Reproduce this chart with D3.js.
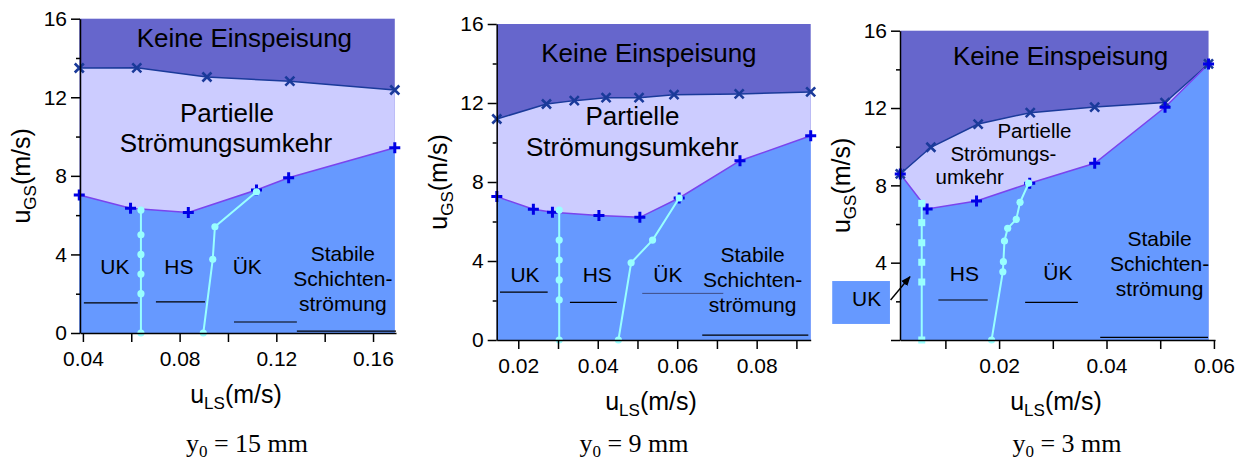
<!DOCTYPE html>
<html lang="de">
<head>
<meta charset="UTF-8">
<title>Strömungskarte</title>
<script src="https://cdn.jsdelivr.net/npm/d3@7/dist/d3.min.js"></script>
<style>
    body { margin: 0; background: #fff; }
    svg text { font-family: "Liberation Sans", Arial, sans-serif; fill: #000; }
    .caption { font-family: "Liberation Serif", "Times New Roman", serif; }
    .axis path, .axis line { stroke: #000; stroke-width: 1.5; }
</style>
</head>
<body>
<script>
    // y0 = 15 mm  [u_LS, u_GS]
    var upper15 = [[0.0385, 13.49], [0.0623, 13.50], [0.0913, 13.03], [0.1256, 12.82], [0.169, 12.37]];
    var lower15 = [[0.0385, 7.02], [0.0597, 6.35], [0.0836, 6.14], [0.1118, 7.28], [0.1251, 7.90], [0.169, 9.43]];
    var ukhs15 = [[0.064, 6.26], [0.064, 5.0], [0.064, 4.0], [0.064, 3.0], [0.064, 2.0], [0.064, 0]];
    var hsuk15 = [[0.0898, 0], [0.0937, 3.75], [0.0946, 5.41], [0.1118, 7.19]];

    // y0 = 9 mm
    var upper9 = [[0.0146, 11.19], [0.0271, 11.95], [0.0341, 12.12], [0.0421, 12.27], [0.0504, 12.27], [0.0592, 12.42], [0.0756, 12.46], [0.0936, 12.56]];
    var lower9 = [[0.0146, 7.26], [0.0238, 6.62], [0.0286, 6.47], [0.0403, 6.31], [0.0506, 6.21], [0.0605, 7.19], [0.0758, 9.08], [0.0936, 10.34]];
    var ukhs9 = [[0.0303, 6.58], [0.0303, 5.06], [0.0303, 4.05], [0.0303, 3.04], [0.0303, 2.03], [0.0303, 0]];
    var hsuk9 = [[0.0452, 0], [0.0484, 3.91], [0.0538, 5.06], [0.0605, 7.19]];

    // y0 = 3 mm
    var upper3 = [[0.0016, 8.59], [0.0073, 9.97], [0.0161, 11.17], [0.0258, 11.76], [0.0378, 12.05], [0.0509, 12.28], [0.059, 14.28]];
    var lower3 = [[0.0016, 8.59], [0.0066, 6.78], [0.0158, 7.19], [0.0257, 8.11], [0.0378, 9.14], [0.0509, 12.04], [0.059, 14.28]];
    var ukhs3 = [[0.0056, 7.07], [0.0056, 6.07], [0.0056, 5.03], [0.0056, 4.02], [0.0056, 3.0], [0.0056, 0]];
    var hsuk3 = [[0.0186, 0], [0.0207, 3.53], [0.0208, 4.05], [0.0210, 5.12], [0.0216, 5.78], [0.0232, 6.24], [0.0239, 7.12], [0.0255, 8.11]];

    // ticks
    var xMajor15 = [0.04, 0.08, 0.12, 0.16], xMinor15 = [0.06, 0.10, 0.14];
    var xMajor9 = [0.02, 0.04, 0.06, 0.08], xMinor9 = [0.03, 0.05, 0.07, 0.09];
    var xMajor3 = [0.02, 0.04, 0.06], xMinor3 = [0.01, 0.03, 0.05];
    var yMajor = [0, 4, 8, 12, 16], yMinor = [2, 6, 10, 14];
    var captions = ["15", "9", "3"];

    var colTop = "#6666cc", colMid = "#ccccff", colLow = "#6699ff";

    var panels = [
        {
            left: 80, top: 18.7, right: 396, bottom: 333, xDomain: [0.0388, 0.1695],
            xMajor: xMajor15, xMinor: xMinor15, hideZero: false,
            upper: upper15, lower: lower15, ukhs: ukhs15, hsuk: hsuk15, ukhsShape: "circle",
            caption: captions[0], capX: 247, titleX: 236,
            labels: [
                {s: 26, lines: [{t: "Keine Einspeisung", x: 0.1068, y: 14.55}]},
                {s: 26, lines: [{t: "Partielle", x: 0.0996, y: 10.74}, {t: "Strömungsumkehr", x: 0.0992, y: 9.21}]},
                {s: 21, lines: [{t: "UK", x: 0.0532, y: 3.0}]},
                {s: 21, lines: [{t: "HS", x: 0.0797, y: 3.0}]},
                {s: 21, lines: [{t: "ÜK", x: 0.108, y: 3.0}]},
                {s: 21, lines: [{t: "Stabile", x: 0.1475, y: 3.66}, {t: "Schichten-", x: 0.1475, y: 2.39},
                                {t: "strömung", x: 0.1475, y: 1.13}]}
            ],
            rules: [
                {x1: 0.0404, x2: 0.0627, y: 1.53}, {x1: 0.0702, x2: 0.0905, y: 1.58},
                {x1: 0.1025, x2: 0.1285, y: 0.56}, {x1: 0.1285, x2: 0.1695, y: 0.10}
            ]
        },
        {
            left: 496.7, top: 24, right: 810.7, bottom: 340, xDomain: [0.01457, 0.0936],
            xMajor: xMajor9, xMinor: xMinor9, hideZero: false,
            upper: upper9, lower: lower9, ukhs: ukhs9, hsuk: hsuk9, ukhsShape: "circle",
            caption: captions[1], capX: 634, titleX: 651,
            labels: [
                {s: 26, lines: [{t: "Keine Einspeisung", x: 0.05288, y: 14.09}]},
                {s: 26, lines: [{t: "Partielle", x: 0.04873, y: 10.89}, {t: "Strömungsumkehr", x: 0.04868, y: 9.32}]},
                {s: 21, lines: [{t: "UK", x: 0.02169, y: 2.92}]},
                {s: 21, lines: [{t: "HS", x: 0.03987, y: 2.92}]},
                {s: 21, lines: [{t: "ÜK", x: 0.05766, y: 2.92}]},
                {s: 21, lines: [{t: "Stabile", x: 0.07897, y: 3.93}, {t: "Schichten-", x: 0.07897, y: 2.67},
                                {t: "strömung", x: 0.07897, y: 1.40}]}
            ],
            rules: [
                {x1: 0.0154, x2: 0.0274, y: 2.42}, {x1: 0.033, x2: 0.0448, y: 1.91},
                {x1: 0.0512, x2: 0.0716, y: 2.36, c: "#333a66", w: 0.8}, {x1: 0.0663, x2: 0.093, y: 0.25}
            ]
        },
        {
            left: 900, top: 30.7, right: 1215, bottom: 340, xDomain: [0.00155, 0.0602],
            xMajor: xMajor3, xMinor: xMinor3, hideZero: true,
            upper: upper3, lower: lower3, ukhs: ukhs3, hsuk: hsuk3, ukhsShape: "square",
            caption: captions[2], capX: 1067, titleX: 1056,
            labels: [
                {s: 26, lines: [{t: "Keine Einspeisung", x: 0.03146, y: 14.23}]},
                {s: 20.5, lines: [{t: "Partielle", x: 0.02658, y: 10.45}, {t: "Strömungs-", x: 0.0208, y: 9.26},
                                {t: "umkehr", x: 0.01454, y: 8.07}]},
                {s: 21, lines: [{t: "HS", x: 0.01353, y: 3.07}]},
                {s: 21, lines: [{t: "ÜK", x: 0.03094, y: 3.10}]},
                {s: 21, lines: [{t: "Stabile", x: 0.04988, y: 4.86}, {t: "Schichten-", x: 0.04988, y: 3.57},
                                {t: "strömung", x: 0.04988, y: 2.29}]}
            ],
            rules: [
                {x1: 0.00869, x2: 0.01789, y: 2.07}, {x1: 0.02485, x2: 0.03467, y: 1.95},
                {x1: 0.03883, x2: 0.0589, y: 0.14}
            ],
            ukBox: {x1: -0.01107, x2: -0.00032, y1: 3.05, y2: 0.83, tx: -0.00466, ty: 1.77,
                    ax1: -0.0002, ay1: 2.07, ax2: 0.0034, ay2: 3.27}
        }
    ];

    var svg = d3.select("body").append("svg")
        .attr("width", 1243)
        .attr("height", 463);

    svg.append("defs").append("marker")
        .attr("id", "arrow")
        .attr("viewBox", "0 0 10 10")
        .attr("refX", 9).attr("refY", 5)
        .attr("markerWidth", 7).attr("markerHeight", 7)
        .attr("orient", "auto")
        .append("path")
        .attr("d", "M0,1L10,5L0,9z")
        .attr("fill", "#000");

    panels.forEach(function (p) {
        var x = d3.scaleLinear().domain(p.xDomain).range([p.left, p.right]);
        var y = d3.scaleLinear().domain([0, 16]).range([p.bottom, p.top]);
        var g = svg.append("g");

        var x0 = p.upper[0][0], x1 = p.upper[p.upper.length - 1][0];

        // regions
        g.append("rect")
            .attr("x", x(x0)).attr("y", y(16))
            .attr("width", x(x1) - x(x0)).attr("height", y(0) - y(16))
            .attr("fill", colTop);

        var area = d3.area()
            .x(function (d) { return x(d[0]); })
            .y0(y(0))
            .y1(function (d) { return y(d[1]); });

        g.append("path").datum(p.upper).attr("d", area).attr("fill", colMid);
        g.append("path").datum(p.lower).attr("d", area).attr("fill", colLow);

        var line = d3.line()
            .x(function (d) { return x(d[0]); })
            .y(function (d) { return y(d[1]); });

        g.append("path").datum(p.upper).attr("d", line)
            .attr("fill", "none").attr("stroke", "#1a3a9a").attr("stroke-width", 1.5);
        g.append("path").datum(p.lower).attr("d", line)
            .attr("fill", "none").attr("stroke", "#7a44ee").attr("stroke-width", 1.5);

        g.selectAll(".mx").data(p.upper).enter().append("path")
            .attr("transform", function (d) { return "translate(" + x(d[0]) + "," + y(d[1]) + ")"; })
            .attr("d", "M-4.5,-4.5L4.5,4.5M-4.5,4.5L4.5,-4.5")
            .attr("stroke", "#1a3a9a").attr("stroke-width", 2.6);

        g.selectAll(".mp").data(p.lower).enter().append("path")
            .attr("transform", function (d) { return "translate(" + x(d[0]) + "," + y(d[1]) + ")"; })
            .attr("d", "M-5.5,0H5.5M0,-5.5V5.5")
            .attr("stroke", "#0000e6").attr("stroke-width", 3);

        // transition lines
        [p.ukhs, p.hsuk].forEach(function (s, k) {
            g.append("path").datum(s).attr("d", line)
                .attr("fill", "none").attr("stroke", "#99ffff").attr("stroke-width", 2);
            var square = (k === 0 && p.ukhsShape === "square");
            if (square) {
                g.selectAll(null).data(s).enter().append("rect")
                    .attr("x", function (d) { return x(d[0]) - 3.5; })
                    .attr("y", function (d) { return y(d[1]) - 3.5; })
                    .attr("width", 7).attr("height", 7)
                    .attr("fill", "#99ffff");
            } else {
                g.selectAll(null).data(s).enter().append("circle")
                    .attr("cx", function (d) { return x(d[0]); })
                    .attr("cy", function (d) { return y(d[1]); })
                    .attr("r", 3.6)
                    .attr("fill", "#99ffff");
            }
        });

        // rules under labels
        g.selectAll(null).data(p.rules).enter().append("line")
            .attr("x1", function (d) { return x(d.x1); })
            .attr("x2", function (d) { return x(d.x2); })
            .attr("y1", function (d) { return y(d.y); })
            .attr("y2", function (d) { return y(d.y); })
            .attr("stroke", function (d) { return d.c || "#000"; })
            .attr("stroke-width", function (d) { return d.w || 1.2; });

        // region labels (multi-line labels are one text with tspans)
        p.labels.forEach(function (lab) {
            var t = g.append("text")
                .attr("text-anchor", "middle")
                .attr("font-size", lab.s + "px");
            lab.lines.forEach(function (ln) {
                t.append("tspan")
                    .attr("x", x(ln.x))
                    .attr("y", y(ln.y))
                    .text(ln.t);
            });
        });

        if (p.ukBox) {
            var b = p.ukBox;
            g.append("rect")
                .attr("x", x(b.x1)).attr("y", y(b.y1))
                .attr("width", x(b.x2) - x(b.x1)).attr("height", y(b.y2) - y(b.y1))
                .attr("fill", colLow);
            g.append("text")
                .attr("x", x(b.tx)).attr("y", y(b.ty))
                .attr("text-anchor", "middle").attr("font-size", "21px")
                .text("UK");
            g.append("line")
                .attr("x1", x(b.ax1)).attr("y1", y(b.ay1))
                .attr("x2", x(b.ax2)).attr("y2", y(b.ay2))
                .attr("stroke", "#000").attr("stroke-width", 1.4)
                .attr("marker-end", "url(#arrow)");
        }

        // axes
        var ax = g.append("g").attr("class", "axis")
            .attr("transform", "translate(0," + p.bottom + ")");
        ax.call(d3.axisBottom(x).tickValues(p.xMajor).tickSize(9).tickSizeOuter(0)
            .tickPadding(9).tickFormat(d3.format(".2f")));
        ax.selectAll("text").attr("font-size", "21px").attr("font-family", null);
        g.append("g").attr("class", "axis")
            .attr("transform", "translate(0," + p.bottom + ")")
            .call(d3.axisBottom(x).tickValues(p.xMinor).tickSize(9).tickSizeOuter(0).tickFormat(""))
            .select(".domain").remove();

        var ay = g.append("g").attr("class", "axis")
            .attr("transform", "translate(" + p.left + ",0)");
        ay.call(d3.axisLeft(y).tickValues(yMajor).tickSize(9).tickSizeOuter(0).tickPadding(4)
            .tickFormat(function (d) { return (p.hideZero && d === 0) ? "" : d; }));
        ay.selectAll("text").attr("font-size", "21px").attr("font-family", null);
        g.append("g").attr("class", "axis")
            .attr("transform", "translate(" + p.left + ",0)")
            .call(d3.axisLeft(y).tickValues(yMinor).tickSize(4).tickSizeOuter(0).tickFormat(""))
            .select(".domain").remove();

        // axis titles
        var xt = g.append("text")
            .attr("x", p.titleX).attr("y", p.bottom + 70)
            .attr("text-anchor", "middle").attr("font-size", "25px");
        xt.append("tspan").text("u");
        xt.append("tspan").attr("font-size", "17px").attr("dy", 6).text("LS");
        xt.append("tspan").attr("dy", -6).text("(m/s)");

        var yt = g.append("text")
            .attr("transform", "translate(" + (p.left - 50) + "," + ((p.top + p.bottom) / 2) + ") rotate(-90)")
            .attr("text-anchor", "middle").attr("font-size", "25px");
        yt.append("tspan").text("u");
        yt.append("tspan").attr("font-size", "17px").attr("dy", 6).text("GS");
        yt.append("tspan").attr("dy", -6).text("(m/s)");

        // caption
        var cp = g.append("text").attr("class", "caption")
            .attr("x", p.capX).attr("y", 452)
            .attr("text-anchor", "middle").attr("font-size", "26px");
        cp.append("tspan").text("y");
        cp.append("tspan").attr("font-size", "17px").attr("dy", 5).text("0");
        cp.append("tspan").attr("dy", -5).text(" = " + p.caption + " mm");
    });
</script>
</body>
</html>
